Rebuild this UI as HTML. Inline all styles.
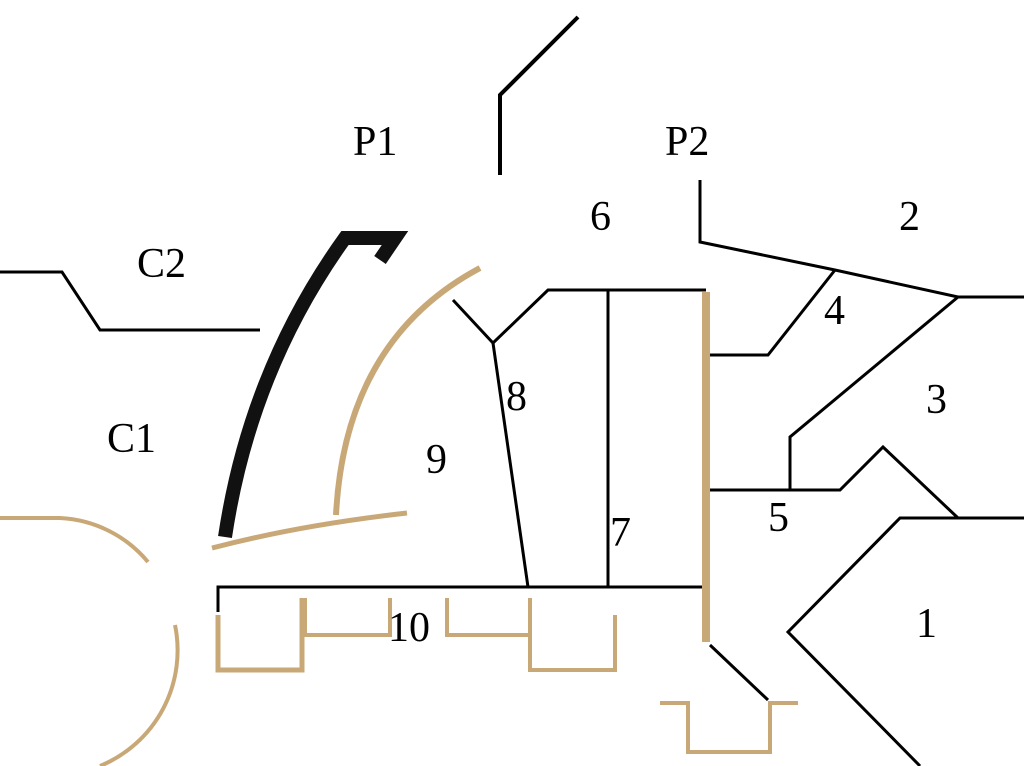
<!DOCTYPE html>
<html><head><meta charset="utf-8"><style>
html,body{margin:0;padding:0;background:#fff;}
svg{display:block}
text{font-family:"Liberation Serif",serif;font-size:42px;fill:#000}
</style></head><body>
<svg width="1024" height="766" viewBox="0 0 1024 766">
<g fill="none" stroke="#000" stroke-width="3">
<polyline points="578,17 500,95 500,175" stroke-width="4"/>
<polyline points="700,180 700,242 835,270 958,297 1024,297"/>
<polyline points="0,272 62,272 100,330 260,330"/>
<polyline points="453,300 493,343 548,290 706,290"/>
<line x1="493" y1="343" x2="528" y2="587"/>
<line x1="608" y1="290" x2="608" y2="587"/>
<polyline points="218,612 218,587 706,587"/>
<polyline points="710,355 768,355 835,270"/>
<polyline points="958,297 790,437 790,490"/>
<polyline points="710,490 840,490 883,447 958,518 1024,518"/>
<polyline points="958,518 900,518 788,632 920,766"/>
<line x1="710" y1="645" x2="768" y2="700"/>
</g>
<path d="M225,537 Q250,370 345,238 L395,238 L380,260" fill="none" stroke="#111" stroke-width="14"/>
<g fill="none" stroke="#c9a878">
<path d="M336,515 Q345,340 480,268" stroke-width="6"/>
<path d="M212,548 Q300,525 407,513" stroke-width="5"/>
<rect x="702" y="292" width="8" height="350" fill="#c9a878" stroke="none"/>
<polyline points="660,703 688,703 688,752 770,752 770,703 798,703" stroke-width="4"/>
<polyline points="218,615 218,670 302,670 302,598" stroke-width="5"/>
<polyline points="305,598 305,635 390,635 390,598" stroke-width="4"/>
<polyline points="447,598 447,635 530,635" stroke-width="4"/>
<polyline points="530,598 530,670 615,670 615,615" stroke-width="4"/>
<path d="M0,518 L60,518 A122,122 0 0 1 148,562" stroke-width="4"/>
<path d="M175,625 A125,125 0 0 1 100,766" stroke-width="4"/>
</g>
<g>
<text x="353" y="155">P1</text>
<text x="665" y="155">P2</text>
<text x="137" y="277">C2</text>
<text x="107" y="452">C1</text>
<text x="590" y="230">6</text>
<text x="899" y="230">2</text>
<text x="824" y="324">4</text>
<text x="926" y="413">3</text>
<text x="506" y="410">8</text>
<text x="426" y="473">9</text>
<text x="610" y="546">7</text>
<text x="768" y="531">5</text>
<text x="916" y="637">1</text>
<text x="388" y="641">10</text>
</g>
</svg>
</body></html>
